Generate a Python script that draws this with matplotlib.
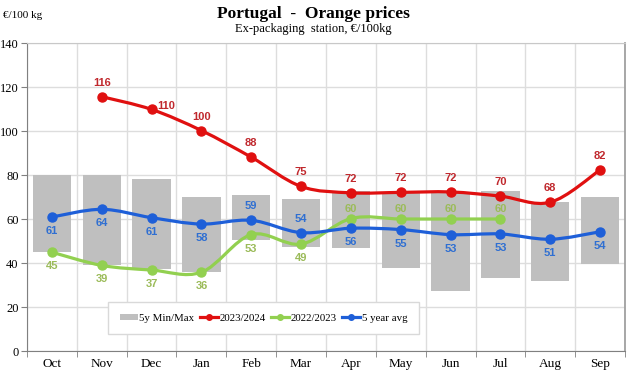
import matplotlib
matplotlib.use('Agg')
import matplotlib.pyplot as plt
from matplotlib.path import Path
from matplotlib.patches import PathPatch, Patch
from matplotlib.lines import Line2D
import numpy as np

months = ['Oct', 'Nov', 'Dec', 'Jan', 'Feb', 'Mar', 'Apr', 'May', 'Jun', 'Jul', 'Aug', 'Sep']

# 5 year min / max range
range_min = [45, 39, 37.1, 35.9, 50.5, 47.4, 46.7, 37.9, 27.3, 33.3, 32.0, 39.4]
range_max = [80, 80, 78.2, 70.1, 71.0, 69.2, 72.9, 71.7, 71.7, 72.9, 67.9, 69.9]

# 2023/2024 season (starts Nov)
s2324 = [None, 115.6, 109.8, 100.2, 88.1, 74.8, 71.9, 72.1, 72.3, 70.4, 67.6, 82.3]
# 2022/2023 season (until Jul)
s2223 = [44.9, 38.9, 36.8, 35.8, 52.9, 48.6, 60.2, 60.0, 60.0, 60.0, None, None]
# 5 year average
avg5 = [60.9, 64.4, 60.6, 57.7, 59.4, 53.8, 55.8, 55.2, 52.9, 53.2, 50.8, 54.2]

# label placement per point: 'a' above, 'b' below, 'r' right
pos2324 = [None, 'a', 'r', 'a', 'a', 'a', 'a', 'a', 'a', 'a', 'a', 'a']
pos2223 = ['b', 'b', 'b', 'b', 'b', 'b', 'a', 'a', 'a', 'a', None, None]
posavg = ['b', 'b', 'b', 'b', 'a', 'a', 'b', 'b', 'b', 'b', 'b', 'b']

RED, RED_TXT = '#E01010', '#C0282D'
GREEN, GREEN_TXT = '#92D050', '#9BBB59'
BLUE, BLUE_TXT = '#1E5FD8', '#2F6FD2'


def smooth_path(xs, ys):
    # Bezier segments through the points (like spreadsheet "smoothed line")
    pts = np.column_stack([xs, ys]).astype(float)
    n = len(pts)
    verts = [pts[0]]
    codes = [Path.MOVETO]
    for i in range(n - 1):
        p0 = pts[i - 1] if i > 0 else pts[i]
        p1 = pts[i]
        p2 = pts[i + 1]
        p3 = pts[i + 2] if i + 2 < n else pts[i + 1]
        c1 = p1 + (p2 - p0) / 6.0
        c2 = p2 - (p3 - p1) / 6.0
        verts += [c1, c2, p2]
        codes += [Path.CURVE4] * 3
    return Path(verts, codes)


def draw_series(ax, values, positions, color, txtcolor, z):
    xs = [i for i, v in enumerate(values) if v is not None]
    ys = [v for v in values if v is not None]
    ax.add_patch(PathPatch(smooth_path(xs, ys), fill=False, edgecolor=color, lw=2.3, zorder=z, capstyle='round'))
    ax.plot(xs, ys, linestyle='none', marker='o', ms=6.5, color=color, zorder=z + 0.1)
    for x, y in zip(xs, ys):
        p = positions[x]
        off = {'a': (0, 14), 'b': (0, -14), 'r': (15, 3)}[p]
        if color == GREEN and p == 'a':
            off = (0, 10)
        ax.annotate(f'{y:.0f}', (x, y), xytext=off, textcoords='offset pixels',
                    ha='center', va='center', fontsize=8, fontweight='bold',
                    color=txtcolor, family='Liberation Sans', zorder=z + 0.2)


fig = plt.figure(figsize=(6.27, 3.74), dpi=100)
ax = fig.add_axes([27 / 627, 1 - 351 / 374, 598 / 627, 308 / 374])

x = np.arange(len(months))
heights = [hi - lo for lo, hi in zip(range_min, range_max)]
ax.bar(x, heights, bottom=range_min, width=0.77, color='#BFBFBF', zorder=1)

draw_series(ax, s2324, pos2324, RED, RED_TXT, 4)
draw_series(ax, s2223, pos2223, GREEN, GREEN_TXT, 3)
draw_series(ax, avg5, posavg, BLUE, BLUE_TXT, 3.5)

ax.set_xlim(-0.5, 11.5)
ax.set_ylim(0, 140)
ax.set_yticks(range(0, 141, 20))
ax.set_xticks(x)
ax.set_xticklabels(months, family='Liberation Serif', fontsize=9.5)
ax.set_xticks(np.arange(-0.5, 12, 1), minor=True)
ax.tick_params(axis='x', which='major', length=0, pad=5)
ax.tick_params(axis='x', which='minor', length=4, color='#808080')
ax.tick_params(axis='y', length=4, color='#808080', pad=2)
for lab in ax.get_yticklabels():
    lab.set_family('Liberation Serif')
    lab.set_fontsize(9)
ax.grid(True, axis='y', color='#DDDDDD', lw=1, zorder=0)
ax.grid(True, axis='x', which='minor', color='#DDDDDD', lw=1, zorder=0)
ax.set_axisbelow(True)
for side in ['left', 'bottom']:
    ax.spines[side].set_color('#808080')
ax.spines['right'].set_color('#A0A0A0')
ax.spines['top'].set_color('#C8C8C8')
ax.spines['right'].set_linewidth(1.3)

handles = [
    Patch(facecolor='#BFBFBF', edgecolor='none'),
    Line2D([], [], color=RED, lw=2.3, marker='o', ms=4),
    Line2D([], [], color=GREEN, lw=2.3, marker='o', ms=4),
    Line2D([], [], color=BLUE, lw=2.3, marker='o', ms=4),
]
leg = ax.legend(handles, ['5y Min/Max', '2023/2024', '2022/2023', '5 year avg'],
                ncol=4, loc='center', bbox_to_anchor=(0.3955, 0.107),
                prop={'family': 'Liberation Serif', 'size': 7.8},
                frameon=True, fancybox=False, edgecolor='#D9D9D9', framealpha=1,
                handlelength=1.7, handletextpad=0.1, columnspacing=0.5, borderpad=1.1,
                handleheight=0.5)
leg.set_zorder(6)

fig.text(0.5, 1 - 14 / 374, 'Portugal  -  Orange prices', ha='center', va='center',
         family='Liberation Serif', fontweight='bold', fontsize=12.5)
fig.text(0.5, 1 - 29 / 374, 'Ex-packaging  station, \u20ac/100kg', ha='center', va='center',
         family='Liberation Serif', fontsize=9)
fig.text(3 / 627, 1 - 16 / 374, '\u20ac/100 kg', ha='left', va='center',
         family='Liberation Serif', fontsize=8)

fig.savefig('out.png', dpi=100)
